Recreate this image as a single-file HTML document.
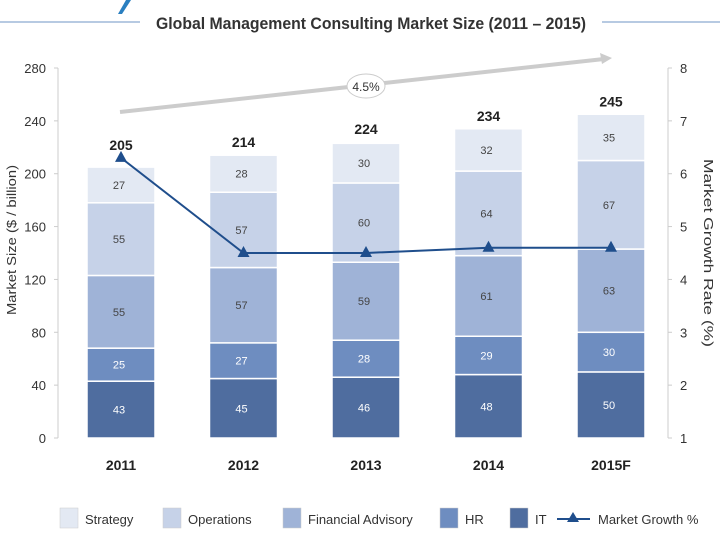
<!DOCTYPE html>
<html><head><meta charset="utf-8"><style>
body{margin:0;background:#fff;font-family:"Liberation Sans",sans-serif}
svg text{font-family:"Liberation Sans",sans-serif}
</style></head><body>
<svg id="c" width="720" height="540" viewBox="0 0 720 540">
<polygon points="118,14 126,0 131,0 122,14" fill="#2a7fc0"/>
<line x1="0" y1="22" x2="140" y2="22" stroke="#9fb8d8" stroke-width="1.5"/>
<line x1="602" y1="22" x2="720" y2="22" stroke="#9fb8d8" stroke-width="1.5"/>
<text x="371" y="29" text-anchor="middle" font-size="17" font-weight="bold" fill="#333" textLength="430" lengthAdjust="spacingAndGlyphs">Global Management Consulting Market Size (2011 – 2015)</text>
<g id="g"></g>
</svg>
<script>
const categories=["2011","2012","2013","2014","2015F"];
const itVals=[43,45,46,48,50];
const hrVals=[25,27,28,29,30];
const faVals=[55,57,59,61,63];
const opsVals=[55,57,60,64,67];
const stratVals=[27,28,30,32,35];
const totals=[205,214,224,234,245];
const growth=[6.3,4.5,4.5,4.6,4.6];
const leftTicks=[0,40,80,120,160,200,240,280];
const rightTicks=[1,2,3,4,5,6,7,8];
const cagrLabel="4.5%";
const NS="http://www.w3.org/2000/svg";
const g=document.getElementById('g');
function mk(t,a,p){const e=document.createElementNS(NS,t);for(const k in a)e.setAttribute(k,a[k]);(p||g).appendChild(e);return e;}
const y0=438,yTop=68;
const yL=v=>y0-(v/280)*(y0-yTop);
const yR=v=>y0-((v-1)/7)*(y0-yTop);
const xC=i=>121+i*122.5;
const bw=68;
let e=mk('line',{x1:58,y1:yTop,x2:58,y2:y0,stroke:'#ccc'});


e=mk('line',{x1:668,y1:yTop,x2:668,y2:y0,stroke:'#ccc'});


leftTicks.forEach(v=>{
 mk('line',{x1:54,y1:yL(v),x2:58,y2:yL(v),stroke:'#ccc'});
 const t=mk('text',{x:46,y:yL(v)+5,'text-anchor':'end','font-size':13,fill:'#333'});t.textContent=v;
 
 
});
rightTicks.forEach(v=>{
 mk('line',{x1:668,y1:yR(v),x2:672,y2:yR(v),stroke:'#ccc'});
 const t=mk('text',{x:680,y:yR(v)+5,'font-size':13,fill:'#333'});t.textContent=v;
 
 
});
let t=mk('text',{x:0,y:0,transform:'translate(16,240) rotate(-90)','text-anchor':'middle','font-size':13,fill:'#333',textLength:150,lengthAdjust:'spacingAndGlyphs'});t.textContent='Market Size ($ / billion)';


t=mk('text',{x:0,y:0,transform:'translate(704,253) rotate(90)','text-anchor':'middle','font-size':13,fill:'#333',textLength:188,lengthAdjust:'spacingAndGlyphs'});t.textContent='Market Growth Rate (%)';


e=mk('line',{x1:120,y1:112,x2:604,y2:59,stroke:'#ccc','stroke-width':4});


mk('polygon',{points:'612,58 600,53 602,64',fill:'#ccc'});
e=mk('ellipse',{cx:366,cy:86,rx:19,ry:12,fill:'#fff',stroke:'#ccc'});


t=mk('text',{x:366,y:91,'text-anchor':'middle','font-size':12,fill:'#333'});t.textContent=cagrLabel;


const series=[[itVals,'#4f6d9f','#fff','it'],[hrVals,'#6e8dc0','#fff','hr'],[faVals,'#9fb3d7','#444','financial-advisory'],[opsVals,'#c6d2e8','#444','operations'],[stratVals,'#e3e9f3','#444','strategy']];
categories.forEach((c,i)=>{
 let acc=0;
 series.forEach(([vals,col,tc,nm])=>{
  const v=vals[i];
  const r=mk('rect',{x:xC(i)-bw/2,y:yL(acc+v),width:bw,height:yL(acc)-yL(acc+v),fill:col,stroke:'#fff','stroke-width':1.5});
  
  
  const l=mk('text',{x:xC(i)-2,y:(yL(acc)+yL(acc+v))/2+4,'text-anchor':'middle','font-size':11,fill:tc});l.textContent=v;
  
  
  acc+=v;
 });
 const ty=Math.min(yL(totals[i])-8,yR(growth[i])-8);
 const tl=mk('text',{x:xC(i),y:ty,'text-anchor':'middle','font-size':14,'font-weight':'bold',fill:'#222'});tl.textContent=totals[i];
 
 
 const cl=mk('text',{x:xC(i),y:470,'text-anchor':'middle','font-size':14,'font-weight':'bold',fill:'#222'});cl.textContent=c;
 
 
});
const pl=mk('polyline',{points:growth.map((v,i)=>xC(i)+','+yR(v)).join(' '),fill:'none',stroke:'#1f4e8c','stroke-width':2});


growth.forEach((v,i)=>{
 const m=mk('polygon',{points:`${xC(i)},${yR(v)-7} ${xC(i)-6},${yR(v)+4} ${xC(i)+6},${yR(v)+4}`,fill:'#1f4e8c'});
 
 
});
const leg=[['Strategy','#e3e9f3',60],['Operations','#c6d2e8',163],['Financial Advisory','#9fb3d7',283],['HR','#6e8dc0',440],['IT','#4f6d9f',510]];
leg.forEach(([n,col,x])=>{
 const r=mk('rect',{x:x,y:508,width:18,height:20,fill:col,stroke:'#ccc','stroke-width':0.5});
 
 
 const l=mk('text',{x:x+25,y:524,'font-size':13,fill:'#333'});l.textContent=n;
 
 
});
e=mk('line',{x1:557,y1:519,x2:590,y2:519,stroke:'#1f4e8c','stroke-width':2});


mk('polygon',{points:'573,512 567,522 579,522',fill:'#1f4e8c'});
t=mk('text',{x:598,y:524,'font-size':13,fill:'#333'});t.textContent='Market Growth %';


</script>
</body></html>
